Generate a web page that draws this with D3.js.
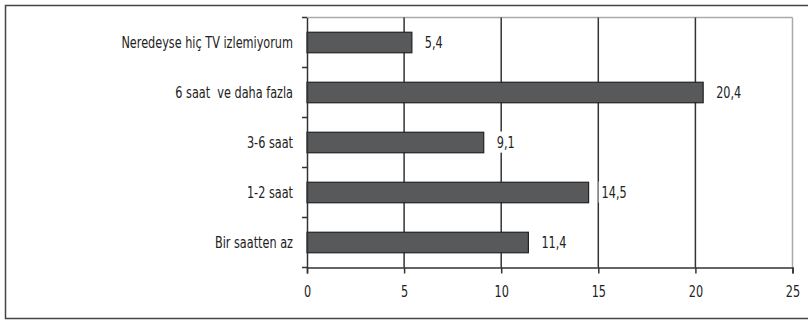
<!DOCTYPE html>
<html><head><meta charset="utf-8">
<script src="https://cdn.jsdelivr.net/npm/d3@7"></script>
<style>body{margin:0;background:#fff}svg{display:block}text{font-family:"DejaVu Sans Condensed","Liberation Sans Narrow",sans-serif;fill:#222}</style>
</head><body><svg id="c" width="808" height="320"></svg>
<script>
const categories = ["Neredeyse hiç TV izlemiyorum","6 saat  ve daha fazla","3-6 saat","1-2 saat","Bir saatten az"];
const values = [5.4, 20.4, 9.1, 14.5, 11.4];
const labels = ["5,4","20,4","9,1","14,5","11,4"];
const xTicks = [0,5,10,15,20,25];

const FS = 16.5, SX = 0.76;
function squeeze(sel){
  sel.each(function(){
    const t = d3.select(this);
    const x = +t.attr("x")||0, y = +t.attr("y")||0;
    t.attr("x",0).attr("y",0).attr("transform",`translate(${x},${y}) scale(${SX},1)`)
     .attr("font-size",FS).style("white-space","pre");
  });
}

const svg = d3.select("#c");
svg.append("rect").attr("x",5.5).attr("y",5.5).attr("width",820).attr("height",313)
  .attr("fill","#fff").attr("stroke","#444").attr("stroke-width",1.5);

const L=307, R=792.5, T=17.5, B=267.5;
const x = d3.scaleLinear().domain([0,25]).range([L,R]);
const y = d3.scaleBand().domain(categories).range([T,B]).paddingInner(0.59).paddingOuter(0.295);
const yb = d3.scaleBand().domain(categories).range([T,B]);

svg.append("line").attr("x1",L).attr("x2",R).attr("y1",T).attr("y2",T).attr("stroke","#aaa").attr("stroke-width",1.5);
svg.append("line").attr("x1",R).attr("x2",R).attr("y1",T).attr("y2",B).attr("stroke","#aaa").attr("stroke-width",1.5);

svg.append("g").selectAll("line").data(xTicks.filter(d=>d>0&&d<25)).join("line")
  .attr("x1",d=>x(d)).attr("x2",d=>x(d)).attr("y1",T).attr("y2",B)
  .attr("stroke","#333").attr("stroke-width",1.5);

svg.append("g").selectAll("rect").data(values).join("rect")
  .attr("x",x(0)).attr("y",(d,i)=>y(categories[i]))
  .attr("width",d=>x(d)-x(0)).attr("height",y.bandwidth())
  .attr("fill","#58595b").attr("stroke","#222").attr("stroke-width",1.2);

const lg = svg.append("g").selectAll("g").data(values).join("g")
  .attr("transform",(d,i)=>`translate(${x(d)+13},${y(categories[i])+y.bandwidth()/2})`);
lg.append("text").text((d,i)=>labels[i]).attr("dy","0.35em");
squeeze(lg.selectAll("text"));
lg.each(function(){
  const t=d3.select(this).select("text").node().getBBox();
  d3.select(this).insert("rect","text").attr("x",-3).attr("y",t.y-1).attr("width",t.width*SX+6).attr("height",t.height+2).attr("fill","#fff");
});

const ya = svg.append("g").attr("transform",`translate(${L},0)`)
  .call(d3.axisLeft(yb).tickSize(0).tickPadding(14));
ya.select(".domain").attr("stroke","#333").attr("stroke-width",1.5);
ya.selectAll("text").attr("fill","#222");
squeeze(ya.selectAll("text"));
svg.append("g").selectAll("line").data(categories.concat(["end"])).join("line")
  .attr("x1",L-5).attr("x2",L).attr("y1",(d,i)=>T+i*yb.step()).attr("y2",(d,i)=>T+i*yb.step())
  .attr("stroke","#333").attr("stroke-width",1.5);

const xa = svg.append("g").attr("transform",`translate(0,${B})`)
  .call(d3.axisBottom(x).tickValues(xTicks).tickSize(6).tickPadding(12));
xa.select(".domain").attr("stroke","#333").attr("stroke-width",1.5);
xa.selectAll(".tick line").attr("stroke","#333").attr("stroke-width",1.5);
xa.selectAll("text").attr("fill","#222");
squeeze(xa.selectAll("text"));
</script></body></html>
